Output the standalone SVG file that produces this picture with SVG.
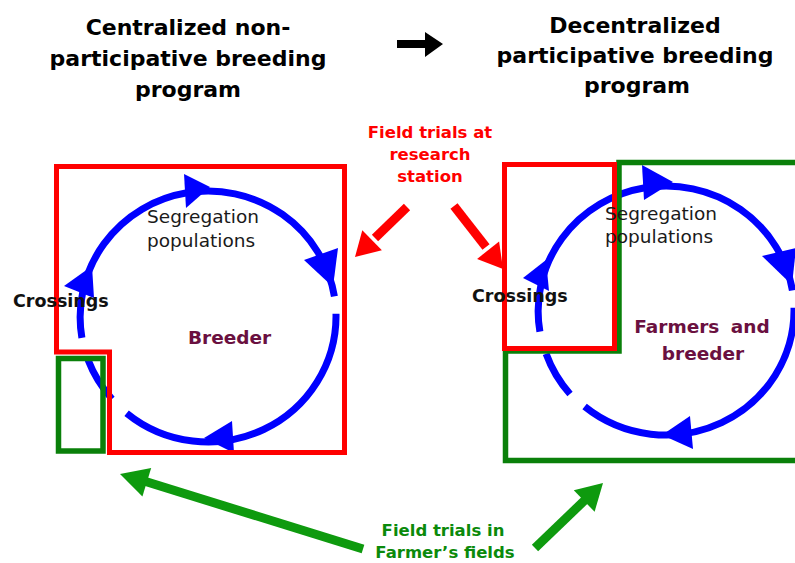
<svg xmlns="http://www.w3.org/2000/svg" width="795" height="563" viewBox="0 0 795 563">
<style>
text{font-family:"DejaVu Sans","Liberation Sans",sans-serif}
.title{font-size:22px;font-weight:bold;fill:#000;text-anchor:middle}
.red{font-size:16.5px;font-weight:bold;fill:#ff0000;text-anchor:middle}
.grn{font-size:16.5px;font-weight:bold;fill:#0b8a0b;text-anchor:middle}
.seg{font-size:18.5px;fill:#1a1a1a}
.cross{font-size:17.5px;font-weight:bold;fill:#111}
.who{font-size:18.5px;font-weight:bold;fill:#6a1040}
.cyc{fill:none;stroke:#0000ff;stroke-width:7}
.head{fill:#0000ff}
.rbox{fill:none;stroke:#ff0000;stroke-width:5}
.gbox{fill:none;stroke:#0a800a;stroke-width:5.5}
.rarr{stroke:#ff0000;stroke-width:9;fill:none}
.garr{stroke:#0e9a0e;stroke-width:9;fill:none}
</style>
<rect width="795" height="563" fill="#fff"/>

<g id="title-left">
<text class="title" x="188" y="35">Centralized non-</text>
<text class="title" x="188" y="66">participative breeding</text>
<text class="title" x="188" y="97">program</text>
</g>
<g id="title-right">
<text class="title" x="635" y="33">Decentralized</text>
<text class="title" x="635" y="63">participative breeding</text>
<text class="title" x="637" y="93">program</text>
</g>
<g id="transition-arrow">
<polygon points="397,40 425,40 425,32 443,44 425,57 425,48 397,48" fill="#000"/>
</g>

<g id="cycle-left">
<path class="cyc" d="M81.9,337.9 A128,126 0 1 1 334.4,296.3"/>
<path class="cyc" d="M336,313.8 A128,126 0 0 1 126.6,413.2"/>
<path class="cyc" d="M112,399 A128,126 0 0 1 88.1,360.1"/>
<polygon class="head" points="184,174 186,208 210,187"/>
<polygon class="head" points="304,260 338,248 333,287"/>
<polygon class="head" points="232,421 234,453 204,438"/>
<polygon class="head" points="64,286 94,298 92,266"/>
</g>
<g id="box-left">
<polygon class="rbox" points="56.5,166.5 344.5,166.5 344.5,452.5 109.5,452.5 109.5,352 56.5,352"/>
<rect class="gbox" x="58.5" y="358.5" width="44.5" height="92.5"/>
</g>
<g id="labels-left">
<text class="seg" x="147" y="223">Segregation</text>
<text class="seg" x="147" y="247">populations</text>
<text class="cross" x="13" y="307">Crossings</text>
<text class="who" x="188" y="344">Breeder</text>
</g>

<g id="cycle-right">
<path class="cyc" d="M539.9,331.7 A128,125 0 1 1 792.4,290.4"/>
<path class="cyc" d="M794,307.8 A128,125 0 0 1 584.6,406.5"/>
<path class="cyc" d="M570,394 A128,125 0 0 1 546.1,353.8"/>
<polygon class="head" points="642,165 644,200 673,182"/>
<polygon class="head" points="762,256 796,248 792,285"/>
<polygon class="head" points="690,416 693,449 662,435"/>
<polygon class="head" points="523,278 549,291 546,260"/>
</g>
<g id="box-right">
<polygon class="gbox" points="619,162.5 800,162.5 800,460.5 505.5,460.5 505.5,351 619,351"/>
<rect class="rbox" x="504.5" y="164.5" width="110" height="184"/>
</g>
<g id="labels-right">
<text class="seg" x="605" y="220">Segregation</text>
<text class="seg" x="605" y="243">populations</text>
<text class="cross" x="472" y="302">Crossings</text>
<text class="who" x="702" y="333" text-anchor="middle" word-spacing="5">Farmers and</text>
<text class="who" x="703" y="360" text-anchor="middle">breeder</text>
</g>

<g id="label-research">
<text class="red" x="430" y="138">Field trials at</text>
<text class="red" x="430" y="160">research</text>
<text class="red" x="430" y="182">station</text>
</g>
<g id="label-farmers">
<text class="grn" x="443" y="536">Field trials in</text>
<text class="grn" x="445" y="558">Farmer’s fields</text>
</g>

<g id="connectors">
<line class="rarr" x1="407" y1="207" x2="375" y2="238"/>
<polygon fill="#ff0000" points="355,257 362.3,230.2 381.9,250.2"/>
<line class="rarr" x1="454" y1="206" x2="486" y2="247"/>
<polygon fill="#ff0000" points="503,269 477.1,258.9 499.1,241.5"/>
<line class="garr" x1="363" y1="549" x2="144" y2="481"/>
<polygon fill="#0e9a0e" points="120,474 151.2,468 142.4,496.6"/>
<line class="garr" x1="535" y1="548" x2="586" y2="499"/>
<polygon fill="#0e9a0e" points="603,483 594.6,511.8 573.8,490.2"/>
</g>
</svg>
